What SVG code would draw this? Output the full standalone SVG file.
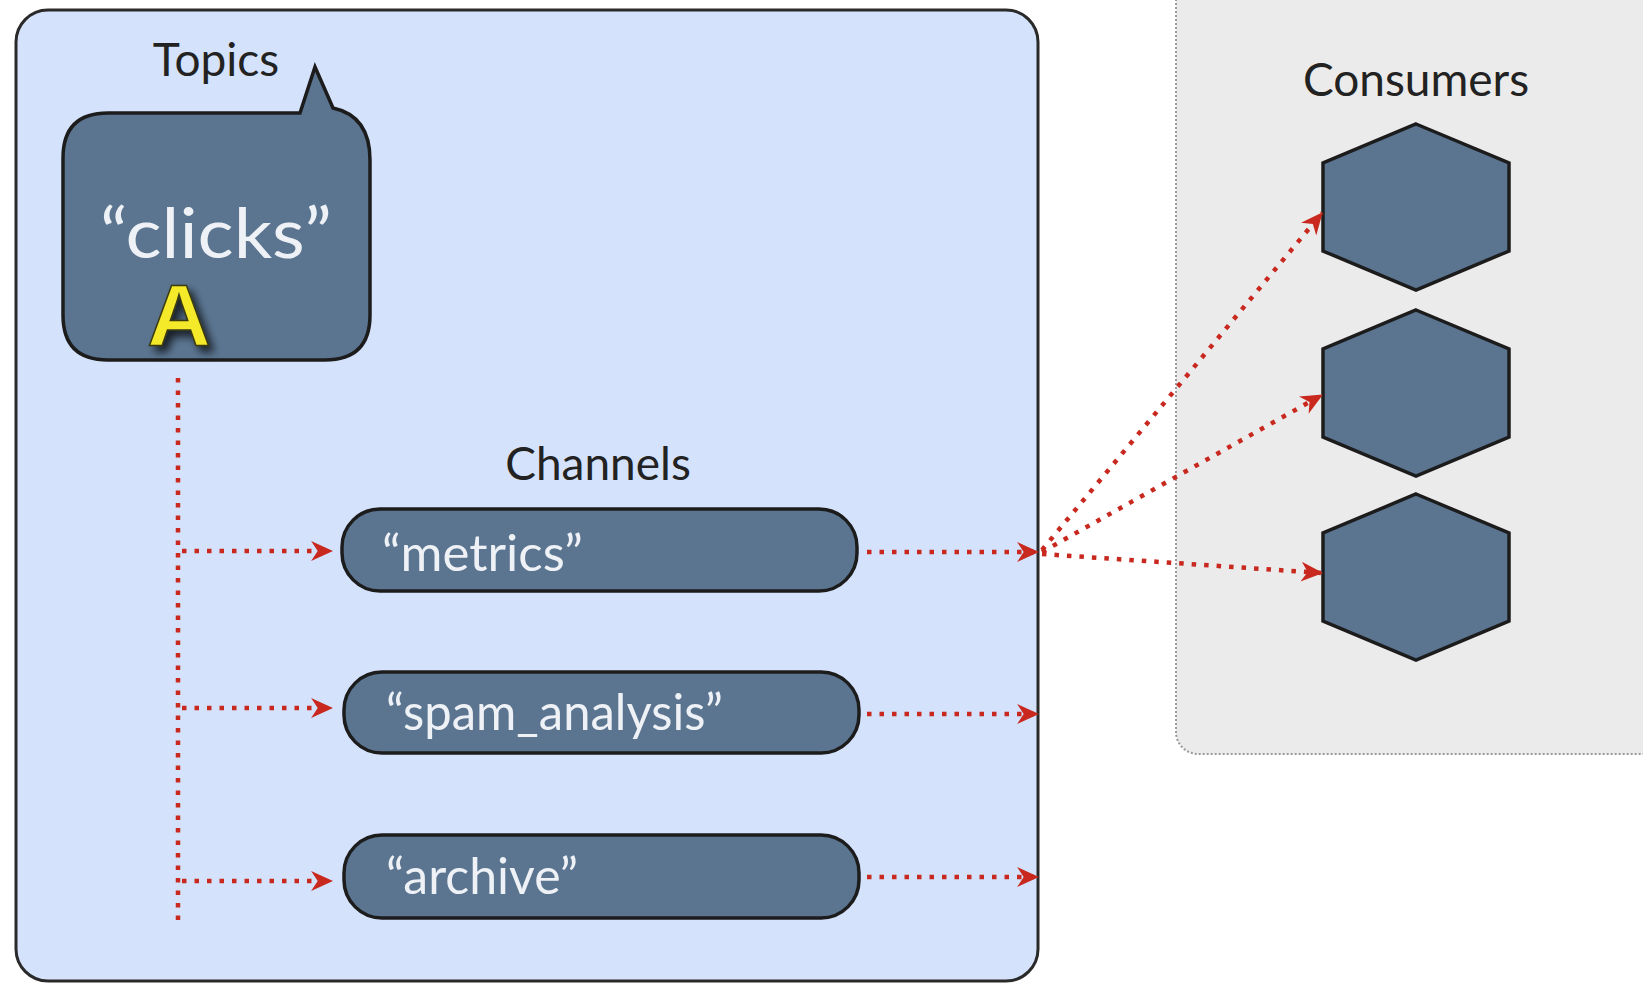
<svg xmlns="http://www.w3.org/2000/svg" width="1643" height="984" viewBox="0 0 1643 984">
  <defs>
    <style>
      .label { font-family: Lato, "Open Sans", "Liberation Sans", sans-serif; font-size: 46px; fill: #222; }
      .ntext { font-family: Lato, "Open Sans", "Liberation Sans", sans-serif; fill: #eef1f5; }
      .node { fill: #5b7591; stroke: #1c1c1c; stroke-width: 3.5; }
      .dot { fill: none; stroke: #c8281e; stroke-width: 4.5; stroke-dasharray: 4.5 8; stroke-linecap: butt; }
    </style>
    <marker id="arr" viewBox="0 0 20 20" refX="19" refY="10" markerWidth="22" markerHeight="22" markerUnits="userSpaceOnUse" orient="auto">
      <path d="M0,1 L20,10 L0,19 L6,10 Z" fill="#c8281e"/>
    </marker>
    <filter id="sh" x="-30%" y="-30%" width="160%" height="160%">
      <feDropShadow dx="5" dy="6" stdDeviation="4" flood-color="#000" flood-opacity="0.75"/>
    </filter>
  </defs>

  <rect width="1643" height="984" fill="#ffffff"/>

  <g id="consumers-group">
    <rect x="1176" y="-20" width="500" height="774" rx="22" fill="#ebebeb" stroke="#9a9a9a" stroke-width="2" stroke-dasharray="2 2"/>
    <text class="label" x="1416" y="96" text-anchor="middle">Consumers</text>
  </g>

  <g id="main-box">
    <rect x="16" y="10" width="1022" height="971" rx="32" fill="#d4e2fb" stroke="#2a2a2a" stroke-width="3"/>
    <text class="label" x="216" y="76" text-anchor="middle">Topics</text>
    <text class="label" x="598" y="480" text-anchor="middle">Channels</text>
  </g>

  <g id="topic-clicks">
    <path class="node" d="M108,113 L300,113 L315,67 L333,108 Q370,116 370,160 L370,315 Q370,360 325,360 L108,360 Q63,360 63,315 L63,158 Q63,113 108,113 Z"/>
    <text class="ntext" x="216" y="258" font-size="70" text-anchor="middle" textLength="232" lengthAdjust="spacingAndGlyphs">“clicks”</text>
    <text x="179" y="345" font-family="'Liberation Sans', Arial, sans-serif" font-weight="bold" font-size="88" fill="#f4ea2c" stroke="#3a3a10" stroke-width="1.5" text-anchor="middle" filter="url(#sh)">A</text>
  </g>

  <g id="channel-metrics">
    <rect class="node" x="342" y="509" width="515" height="82" rx="38"/>
    <text class="ntext" x="382" y="571" font-size="50" textLength="201" lengthAdjust="spacingAndGlyphs">“metrics”</text>
  </g>
  <g id="channel-spam">
    <rect class="node" x="344" y="672" width="515" height="81" rx="38"/>
    <text class="ntext" x="386" y="730" font-size="50" textLength="337" lengthAdjust="spacingAndGlyphs">“spam_analysis”</text>
  </g>
  <g id="channel-archive">
    <rect class="node" x="344" y="835" width="515" height="83" rx="38"/>
    <text class="ntext" x="386" y="894" font-size="50" textLength="192" lengthAdjust="spacingAndGlyphs">“archive”</text>
  </g>

  <g id="consumer-1">
    <polygon class="node" points="1416,124 1509,163 1509,251 1416,290 1323,251 1323,163"/>
  </g>
  <g id="consumer-2">
    <polygon class="node" points="1416,310 1509,349 1509,437 1416,476 1323,437 1323,349"/>
  </g>
  <g id="consumer-3">
    <polygon class="node" points="1416,494 1509,533 1509,621 1416,660 1323,621 1323,533"/>
  </g>

  <g id="connectors">
    <line class="dot" x1="178" y1="378" x2="178" y2="922"/>
    <line class="dot" x1="182" y1="551" x2="332" y2="551" marker-end="url(#arr)"/>
    <line class="dot" x1="182" y1="708" x2="332" y2="708" marker-end="url(#arr)"/>
    <line class="dot" x1="182" y1="881" x2="332" y2="881" marker-end="url(#arr)"/>
    <line class="dot" x1="867" y1="552" x2="1038" y2="552" marker-end="url(#arr)"/>
    <line class="dot" x1="867" y1="714" x2="1038" y2="714" marker-end="url(#arr)"/>
    <line class="dot" x1="867" y1="877" x2="1038" y2="877" marker-end="url(#arr)"/>
    <line class="dot" x1="1042" y1="550" x2="1322" y2="213" marker-end="url(#arr)"/>
    <line class="dot" x1="1042" y1="552" x2="1322" y2="395" marker-end="url(#arr)"/>
    <line class="dot" x1="1042" y1="554" x2="1322" y2="573" marker-end="url(#arr)"/>
  </g>
</svg>
